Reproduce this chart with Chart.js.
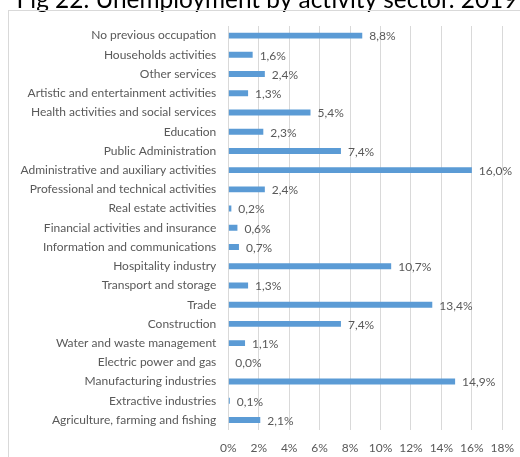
<!DOCTYPE html>
<html>
<head>
<meta charset="utf-8">
<title>Fig 22. Unemployment by activity sector. 2019</title>
<script src="https://cdn.jsdelivr.net/npm/chart.js@4/dist/chart.umd.min.js"></script>
<style>
  html, body { margin: 0; padding: 0; background: #ffffff; overflow: hidden; }
  #wrap { position: absolute; left: 0; top: -20px; width: 520px; height: 477px; }
</style>
</head>
<body>
<div id="wrap"><canvas id="chart" width="520" height="477"></canvas></div>
<script>
// Unemployment share by activity sector, 2019 (%)
const sectors = [
  "No previous occupation",
  "Households activities",
  "Other services",
  "Artistic and entertainment activities",
  "Health activities and social services",
  "Education",
  "Public Administration",
  "Administrative and auxiliary activities",
  "Professional and technical activities",
  "Real estate activities",
  "Financial activities and insurance",
  "Information and communications",
  "Hospitality industry",
  "Transport and storage",
  "Trade",
  "Construction",
  "Water and waste management",
  "Electric power and gas",
  "Manufacturing industries",
  "Extractive industries",
  "Agriculture, farming and fishing"
];
const shares = [8.8, 1.6, 2.4, 1.3, 5.4, 2.3, 7.4, 16.0, 2.4, 0.2, 0.6, 0.7, 10.7, 1.3, 13.4, 7.4, 1.1, 0.0, 14.9, 0.1, 2.1];
const axisMin = 0;
const axisMax = 18;
const axisStep = 2;
const headline = "Fig 22. Unemployment by activity sector. 2019";

const FONT = "Lato, 'Open Sans', sans-serif";
const GREY_TEXT = "#595959";

function pct(v) {
  return v.toFixed(1).replace(".", ",") + "%";
}

// heading above the chart frame, plus a light frame around the chart object
const framePlugin = {
  id: "frame",
  beforeDraw(chart) {
    const ctx = chart.ctx;
    ctx.save();
    ctx.fillStyle = "#000000";
    ctx.font = "24.4px " + FONT;
    ctx.textAlign = "center";
    ctx.textBaseline = "alphabetic";
    ctx.fillText(headline, 267, 27.5);
    ctx.strokeStyle = "#d9d9d9";
    ctx.lineWidth = 1;
    ctx.strokeRect(8.5, 30.5, chart.width, chart.height);
    ctx.restore();
  }
};

// value labels to the right of each bar
const valueLabels = {
  id: "valueLabels",
  afterDatasetsDraw(chart) {
    const ctx = chart.ctx;
    const meta = chart.getDatasetMeta(0);
    ctx.save();
    ctx.font = "12px " + FONT;
    ctx.fillStyle = GREY_TEXT;
    ctx.textAlign = "left";
    ctx.textBaseline = "middle";
    meta.data.forEach((bar, i) => {
      ctx.fillText(pct(shares[i]), bar.x + 7, bar.y + 1);
    });
    ctx.restore();
  }
};

new Chart(document.getElementById("chart"), {
  type: "bar",
  data: {
    labels: sectors,
    datasets: [{
      data: shares,
      backgroundColor: "#5b9bd5",
      borderWidth: 0,
      barPercentage: 0.31,
      categoryPercentage: 1.0
    }]
  },
  options: {
    indexAxis: "y",
    responsive: false,
    animation: false,
    devicePixelRatio: 1,
    layout: { padding: { top: 46, left: 0, right: 17.7, bottom: 0 } },
    plugins: {
      legend: { display: false },
      tooltip: { enabled: false },
      title: { display: false }
    },
    scales: {
      x: {
        min: axisMin,
        max: axisMax,
        ticks: {
          stepSize: axisStep,
          color: GREY_TEXT,
          font: { family: FONT, size: 12 },
          padding: 11,
          callback: (v) => v + "%"
        },
        grid: { color: "#d9d9d9", drawTicks: false },
        border: { display: false },
        afterFit(scale) {
          scale.height = 27.4;
          scale.paddingLeft = 0;
          scale.paddingRight = 0;
        }
      },
      y: {
        ticks: {
          color: GREY_TEXT,
          font: { family: FONT, size: 12 },
          padding: 12,
          autoSkip: false
        },
        grid: { display: false, drawTicks: false },
        border: { display: false },
        afterFit(scale) { scale.width = 228.3; }
      }
    }
  },
  plugins: [framePlugin, valueLabels]
});
</script>
</body>
</html>
